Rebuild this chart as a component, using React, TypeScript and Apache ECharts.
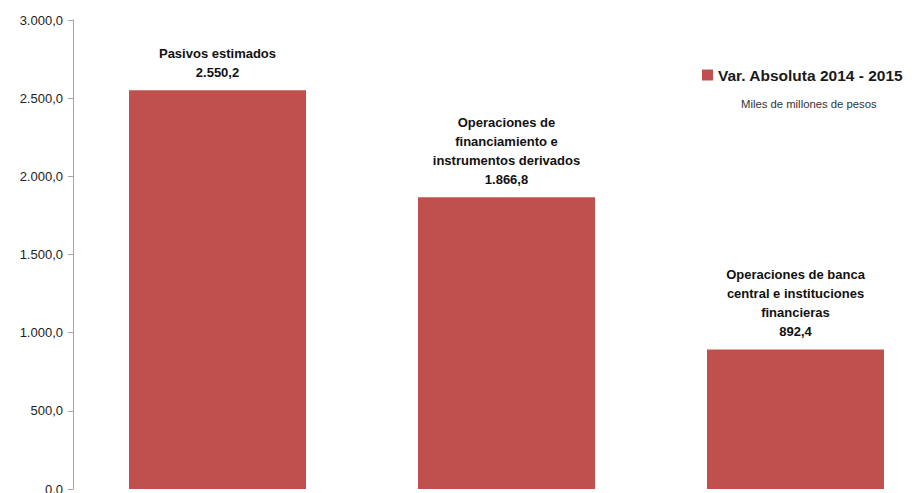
import React, { useEffect, useRef } from "react";
import * as echarts from "echarts";

const categories = [
  "Pasivos estimados",
  "Operaciones de\nfinanciamiento e\ninstrumentos derivados",
  "Operaciones de banca\ncentral e instituciones\nfinancieras",
];
const values = [2550.2, 1866.8, 892.4];
const seriesName = "Var. Absoluta 2014 - 2015";
const unitNote = "Miles de millones de pesos";

const fmt = (v: number) => {
  const [i, d] = v.toFixed(1).split(".");
  return i.replace(/\B(?=(\d{3})+(?!\d))/g, ".") + "," + d;
};

const FONT = "'Liberation Sans', Arial, sans-serif";

export default function App() {
  const ref = useRef<HTMLDivElement>(null);
  useEffect(() => {
    if (!ref.current) return;
    const chart = echarts.init(ref.current, undefined, { renderer: "svg" });
    chart.setOption({
      animation: false,
      textStyle: { fontFamily: FONT },
      grid: { left: 73, right: 0, top: 20, bottom: 4, containLabel: false, outerBoundsMode: "none" },
      legend: {
        data: [seriesName],
        left: 697,
        top: 62,
        itemWidth: 11,
        itemHeight: 11,
        itemGap: 4,
        icon: "rect",
        textStyle: { fontSize: 15.5, fontWeight: "bold", color: "#1a1a1a", fontFamily: FONT },
      },
      graphic: [
        {
          type: "text",
          left: 741,
          top: 98,
          style: { text: unitNote, fontSize: 11.3, fill: "#333", fontFamily: FONT },
        },
      ],
      xAxis: {
        type: "category",
        data: categories,
        axisLine: { show: false },
        axisTick: { show: false },
        axisLabel: { show: false },
      },
      yAxis: {
        type: "value",
        min: 0,
        max: 3000,
        interval: 500,
        splitLine: { show: false },
        axisLine: { show: true, lineStyle: { color: "#a6a6a6", width: 1 } },
        axisTick: { show: true, length: 5, lineStyle: { color: "#a6a6a6" } },
        axisLabel: {
          margin: 10,
          fontSize: 13,
          color: "#222",
          fontFamily: FONT,
          formatter: (v: number) => fmt(v),
        },
      },
      series: [
        {
          name: seriesName,
          type: "bar",
          data: values,
          barWidth: 177,
          itemStyle: { color: "#C0504D" },
          label: {
            show: true,
            position: "top",
            distance: 8,
            fontSize: 13,
            fontWeight: "bold",
            lineHeight: 19,
            color: "#111",
            fontFamily: FONT,
            align: "center",
            formatter: (p: any) => categories[p.dataIndex] + "\n" + fmt(p.value),
          },
        },
      ],
    });
    return () => chart.dispose();
  }, []);
  return (
    <div style={{ width: 918, height: 493, position: "absolute", left: 0, top: 0, overflow: "hidden" }}>
      <div ref={ref} style={{ width: 940, height: 493, position: "absolute", left: 0, top: 0 }} />
    </div>
  );
}
